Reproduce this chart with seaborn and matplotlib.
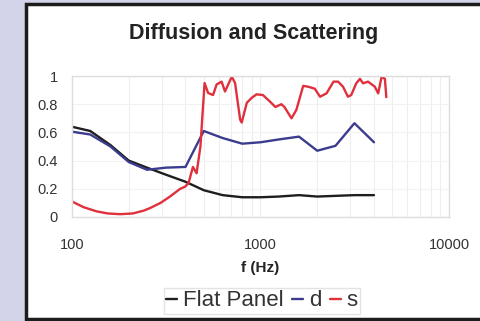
import matplotlib
matplotlib.use("Agg")
import matplotlib.pyplot as plt
from matplotlib.patches import Rectangle
import seaborn as sns

# third-octave bands for the panel measurements
freq_bands = [100, 125, 160, 200, 250, 315, 400, 500, 630, 800, 1000,
              1250, 1600, 2000, 2500, 3150, 4000]
flat_panel = [0.64, 0.61, 0.51, 0.40, 0.35, 0.30, 0.25, 0.19, 0.155, 0.14,
              0.14, 0.145, 0.155, 0.145, 0.15, 0.155, 0.155]
d_coef = [0.605, 0.585, 0.50, 0.39, 0.335, 0.35, 0.355, 0.61, 0.56, 0.52,
          0.53, 0.55, 0.57, 0.47, 0.505, 0.665, 0.53]

# scattering measured on a finer grid
s_freq = [100, 115, 135, 155, 180, 210, 240, 260, 295, 330, 375, 398, 415,
          438, 458, 480, 505, 527, 560, 585, 622, 648, 704, 733, 780, 795,
          846, 898, 953, 1030, 1120, 1200, 1290, 1340, 1460, 1550, 1685,
          1790, 1940, 2070, 2240, 2440, 2580, 2740, 2910, 3030, 3220, 3370,
          3500, 3720, 4040, 4210, 4390, 4570, 4650]
s_coef = [0.11, 0.07, 0.04, 0.025, 0.02, 0.025, 0.045, 0.064, 0.10, 0.144,
          0.20, 0.215, 0.24, 0.355, 0.31, 0.50, 0.95, 0.88, 0.865, 0.94,
          0.96, 0.89, 0.995, 0.95, 0.69, 0.67, 0.81, 0.845, 0.87, 0.865,
          0.82, 0.78, 0.80, 0.78, 0.70, 0.76, 0.93, 0.924, 0.91, 0.853,
          0.877, 0.96, 0.96, 0.924, 0.853, 0.865, 0.948, 0.98, 0.948, 0.96,
          0.924, 0.877, 0.995, 0.98, 0.85]

sns.set_style("white")
plt.rcParams["font.family"] = ["Liberation Sans", "DejaVu Sans"]

fig = plt.figure(figsize=(4.81, 3.21), dpi=100)
fig.patch.set_facecolor("#d3d3ea")
# white card with dark frame
card = Rectangle((26 / 481, 2 / 321), 1.0, 315 / 321,
                 transform=fig.transFigure, facecolor="white",
                 edgecolor="#1c1c1c", linewidth=2.5, zorder=-5)
fig.add_artist(card)

ax = fig.add_axes([72 / 481, 1 - 217 / 321, 377 / 481, 141 / 321])
ax.set_zorder(2)
ax.set_facecolor("white")

sns.lineplot(x=freq_bands, y=flat_panel, ax=ax, color="#1e1e1e", lw=1.7,
             label="Flat Panel")
sns.lineplot(x=freq_bands, y=d_coef, ax=ax, color="#3c3c8e", lw=1.7, label="d")
sns.lineplot(x=s_freq, y=s_coef, ax=ax, color="#e0303c", lw=1.7, label="s")

ax.set_xscale("log")
ax.set_xlim(100, 10000)
ax.set_ylim(0, 1)
ax.set_yticks([0, 0.2, 0.4, 0.6, 0.8, 1])
ax.set_yticklabels(["0", "0.2", "0.4", "0.6", "0.8", "1"])
ax.set_xticks([100, 1000, 10000])
ax.set_xticklabels(["100", "1000", "10000"])
ax.tick_params(axis="both", length=0, labelsize=10.5, labelcolor="#333333")
ax.tick_params(axis="x", pad=15)
ax.tick_params(axis="y", pad=10)
ax.minorticks_on()
ax.tick_params(which="minor", length=0)
ax.grid(True, which="both", axis="x", color="#eeeeee", lw=0.8)
ax.grid(True, which="major", axis="y", color="#f2f2f2", lw=0.8)
for sp in ax.spines.values():
    sp.set_color("#dddddd")
    sp.set_linewidth(1.0)
ax.set_xlabel("")
ax.set_ylabel("")

fig.text(254 / 481, 1 - 33 / 321, "Diffusion and Scattering", ha="center",
         va="center", fontsize=15.5, fontweight="bold", color="#222222")
fig.text(260 / 481, 1 - 268 / 321, "f (Hz)", ha="center", va="center",
         fontsize=11, fontweight="bold", color="#222222")

handles, labels = ax.get_legend_handles_labels()
ax.get_legend().remove()
fig.legend(handles, labels, loc="center", bbox_to_anchor=(262 / 481, 1 - 301 / 321),
           ncol=3, frameon=True, fontsize=16, handlelength=0.5,
           handletextpad=0.25, columnspacing=0.4, borderpad=0.1,
           edgecolor="#dddddd", fancybox=False, labelcolor="#333333")

fig.savefig("out.png", dpi=100, facecolor=fig.get_facecolor())
